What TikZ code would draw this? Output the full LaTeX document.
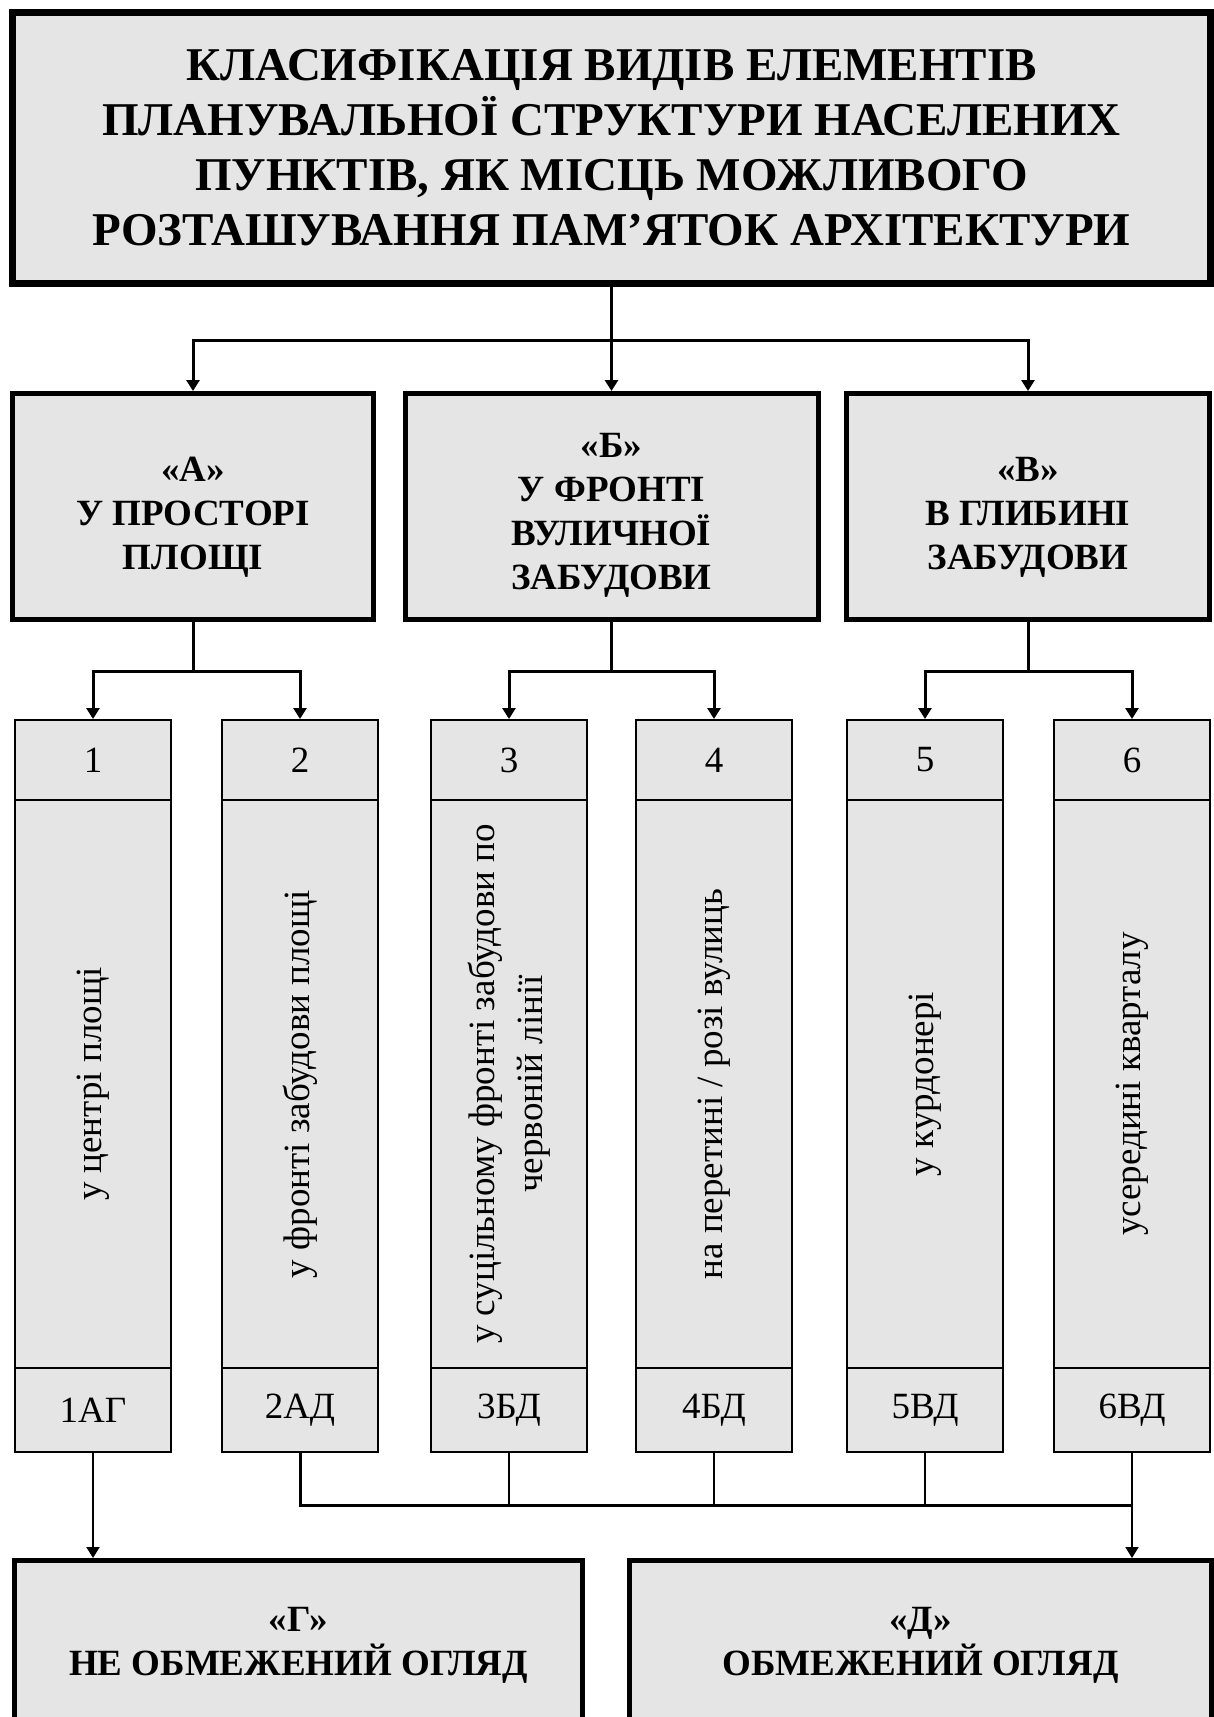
\documentclass[tikz,border=0pt]{standalone}
\usepackage{fontspec}
\setmainfont{Liberation Serif}
\usetikzlibrary{arrows.meta}

\begin{document}
\begin{tikzpicture}[x=1pt, y=-1pt,
        box/.style={draw, fill=black!10, align=center, inner sep=0pt},
        head/.style={box, line width=7pt, font=\bfseries\fontsize{47}{55}\selectfont},
        group/.style={box, line width=5pt, font=\bfseries\fontsize{37}{44}\selectfont},
        cell/.style={box, line width=2pt, minimum width=156pt, font=\fontsize{37}{44}\selectfont},
        tall/.style={cell, rotate=90, minimum width=568pt, minimum height=156pt},
        wire/.style={line width=3pt},
        twire/.style={line width=2pt},
        arr/.style={-{Triangle[width=13pt,length=11pt]}}]
        \useasboundingbox (0,0) rectangle (1214,1717);
        % Paths, nodes and wires:
        \node[head, minimum width=1198pt, minimum height=271pt](N0) at (611.5, 148){КЛАСИФІКАЦІЯ ВИДІВ ЕЛЕМЕНТІВ\\ПЛАНУВАЛЬНОЇ СТРУКТУРИ НАСЕЛЕНИХ\\ПУНКТІВ, ЯК МІСЦЬ МОЖЛИВОГО\\РОЗТАШУВАННЯ ПАМ’ЯТОК АРХІТЕКТУРИ};
        \node[group, minimum width=361pt, minimum height=226pt](NA) at (193, 506.5){\rule{0pt}{46pt}«А»\\У ПРОСТОРІ\\ПЛОЩІ};
        \node[group, minimum width=413pt, minimum height=226pt](NB) at (611.5, 506.5){\rule{0pt}{42pt}«Б»\\У ФРОНТІ\\ВУЛИЧНОЇ\\ЗАБУДОВИ};
        \node[group, minimum width=363pt, minimum height=226pt](NC) at (1028, 506.5){\rule{0pt}{46pt}«В»\\В ГЛИБИНІ\\ЗАБУДОВИ};
        \node[cell, minimum height=80pt](N1) at (93, 760){1};
        \node[cell, minimum height=80pt](N2) at (300, 760){2};
        \node[cell, minimum height=80pt](N3) at (509, 760){3};
        \node[cell, minimum height=80pt](N4) at (714, 760){4};
        \node[cell, minimum height=80pt](N5) at (925, 760){5};
        \node[cell, minimum height=80pt](N6) at (1132, 760){6};
        \node[tall](T1) at (93, 1084){у центрі площі};
        \node[tall](T2) at (300, 1084){у фронті забудови площі};
        \node[tall, font=\fontsize{37}{48}\selectfont](T3) at (509, 1084){у суцільному фронті забудови по\\червоній лінії};
        \node[tall](T4) at (714, 1084){на перетині / розі вулиць};
        \node[tall](T5) at (925, 1084){у курдонері};
        \node[tall](T6) at (1132, 1084){усередині кварталу};
        \node[cell, minimum height=84pt](C1) at (93, 1410){1АГ};
        \node[cell, minimum height=84pt](C2) at (300, 1410){2АД};
        \node[cell, minimum height=84pt](C3) at (509, 1410){3БД};
        \node[cell, minimum height=84pt](C4) at (714, 1410){4БД};
        \node[cell, minimum height=84pt](C5) at (925, 1410){5ВД};
        \node[cell, minimum height=84pt](C6) at (1132, 1410){6ВД};
        \node[group, minimum width=568pt, minimum height=169pt](NG) at (298.5, 1645){«Г»\\НЕ ОБМЕЖЕНИЙ ОГЛЯД};
        \node[group, minimum width=582pt, minimum height=169pt](ND) at (920.5, 1645){«Д»\\ОБМЕЖЕНИЙ ОГЛЯД};
        \draw[wire] (N0.south) -- ++(0, 53) coordinate (J0);
        \draw[wire, arr] (J0) -| (NA.north);
        \draw[wire, arr] (J0) -- (NB.north);
        \draw[wire, arr] (J0) -| (NC.north);
        \draw[wire] (NA.south) -- ++(0, 49) coordinate (JA);
        \draw[wire, arr] (JA) -| (N1.north);
        \draw[wire, arr] (JA) -| (N2.north);
        \draw[wire] (NB.south) -- ++(0, 49) coordinate (JB);
        \draw[wire, arr] (JB) -| (N3.north);
        \draw[wire, arr] (JB) -| (N4.north);
        \draw[wire] (NC.south) -- ++(0, 49) coordinate (JC);
        \draw[wire, arr] (JC) -| (N5.north);
        \draw[wire, arr] (JC) -| (N6.north);
        \draw[twire, arr] (C1.south) -- (C1.south |- NG.north);
        \coordinate (bus) at (1132, 1505);
        \draw[wire] (C2.south) |- (bus);
        \draw[twire] (C3.south) -- (C3.south |- bus);
        \draw[twire] (C4.south) -- (C4.south |- bus);
        \draw[twire] (C5.south) -- (C5.south |- bus);
        \draw[twire, arr] (C6.south) -- (C6.south |- ND.north);
    \end{tikzpicture}
\end{document}
